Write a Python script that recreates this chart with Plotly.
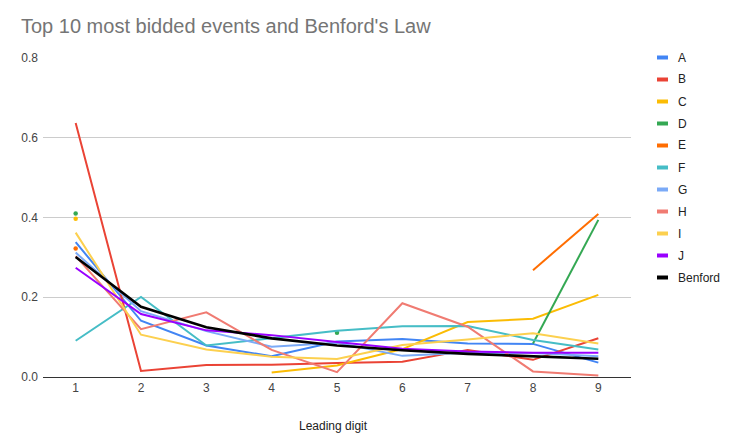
import math
import plotly.graph_objects as go

digits = [1, 2, 3, 4, 5, 6, 7, 8, 9]
series_names = ["A", "B", "C", "D", "E", "F", "G", "H", "I", "J"]
A = [0.338, 0.141, 0.079, 0.052, 0.089, 0.095, 0.084, 0.083, 0.036]
B = [0.637, 0.015, 0.030, 0.031, 0.035, 0.038, 0.068, 0.043, 0.097]
C = [0.397, None, None, 0.011, 0.029, 0.070, 0.138, 0.146, 0.206]
D = [0.410, None, None, None, 0.111, None, None, 0.084, 0.394]
E = [0.322, None, None, None, None, None, None, 0.268, 0.409]
F = [0.091, 0.201, 0.079, 0.098, 0.116, 0.127, 0.128, 0.093, 0.069]
G = [0.312, 0.165, 0.115, 0.076, 0.086, 0.053, 0.061, 0.060, 0.052]
H = [0.303, 0.120, 0.162, 0.068, 0.012, 0.185, 0.126, 0.014, 0.004]
I = [0.362, 0.106, 0.069, 0.051, 0.045, 0.080, 0.094, 0.110, 0.084]
J = [0.274, 0.158, 0.117, 0.105, 0.088, 0.071, 0.064, 0.061, 0.061]
benford = [math.log10(1 + 1 / d) for d in digits]

series_values = [A, B, C, D, E, F, G, H, I, J]
colors = ["#4285F4", "#EA4335", "#FBBC04", "#34A853", "#FF6D01",
          "#46BDC6", "#7BAAF7", "#F07B72", "#FCD04F", "#9900FF"]
x_title = "Leading digit"
chart_title = "Top 10 most bidded events and Benford's Law"

FONT = "Arial, Liberation Sans, sans-serif"
W, H_PX = 730, 448
ML, MR, MT, MB = 43, 99, 58, 71
PW, PH = W - ML - MR, H_PX - MT - MB

fig = go.Figure()


def isolated(vals):
    out = []
    for i, v in enumerate(vals):
        prev_none = i == 0 or vals[i - 1] is None
        next_none = i == len(vals) - 1 or vals[i + 1] is None
        out.append(v if (v is not None and prev_none and next_none) else None)
    return out


for name, vals, col in zip(series_names, series_values, colors):
    fig.add_trace(go.Scatter(x=digits, y=vals, name=name, mode="lines",
                             line=dict(color=col, width=2),
                             connectgaps=False, showlegend=False))
    iso = isolated(vals)
    if any(v is not None for v in iso):
        fig.add_trace(go.Scatter(x=digits, y=iso, mode="markers",
                                 marker=dict(color=col, size=4.5),
                                 showlegend=False, hoverinfo="skip"))

fig.add_trace(go.Scatter(x=digits, y=benford, name="Benford", mode="lines",
                         line=dict(color="#000000", width=2.6),
                         showlegend=False))


def px_x(p):
    return (p - ML) / PW


def px_y(p):
    return 1 - (p - MT) / PH


# custom legend (short thick swatches, as in the reference)
legend_names = series_names + ["Benford"]
legend_colors = colors + ["#000000"]
for k, (nm, col) in enumerate(zip(legend_names, legend_colors)):
    yc = 57.5 + 22 * k
    fig.add_shape(type="line", xref="paper", yref="paper",
                  x0=px_x(657), x1=px_x(668), y0=px_y(yc), y1=px_y(yc),
                  line=dict(color=col, width=4))
    fig.add_annotation(text=nm, xref="paper", yref="paper",
                       x=px_x(676), y=px_y(yc), xanchor="left", yanchor="middle",
                       showarrow=False,
                       font=dict(family=FONT, size=12, color="#222222"))

# x axis title
fig.add_annotation(text=x_title, xref="paper", yref="paper",
                   x=px_x(333), y=px_y(425.5), xanchor="center", yanchor="middle",
                   showarrow=False, font=dict(family=FONT, size=12, color="#222222"))

fig.update_layout(
    width=W, height=H_PX,
    margin=dict(l=ML, r=MR, t=MT, b=MB),
    paper_bgcolor="white", plot_bgcolor="white",
    font=dict(family=FONT, size=12, color="#444444"),
    title=dict(text=chart_title,
               x=21 / W, xref="container", xanchor="left",
               y=1 - 26 / H_PX, yref="container", yanchor="middle",
               font=dict(family=FONT, size=20, color="#757575")),
    showlegend=False,
    xaxis=dict(range=[0.5, 9.5], tickvals=digits, ticktext=[str(d) for d in digits],
               showgrid=False, zeroline=False, showline=True,
               linecolor="#333333", linewidth=1, ticks="",
               tickfont=dict(size=12, color="#444444")),
    yaxis=dict(range=[0, 0.8], tickvals=[0, 0.2, 0.4, 0.6, 0.8],
               tickformat=".1f", showgrid=True, gridcolor="#CCCCCC",
               zeroline=False, showline=False, ticks="",
               ticklabelstandoff=4,
               tickfont=dict(size=12, color="#444444")),
)

fig.write_html("out.html")
